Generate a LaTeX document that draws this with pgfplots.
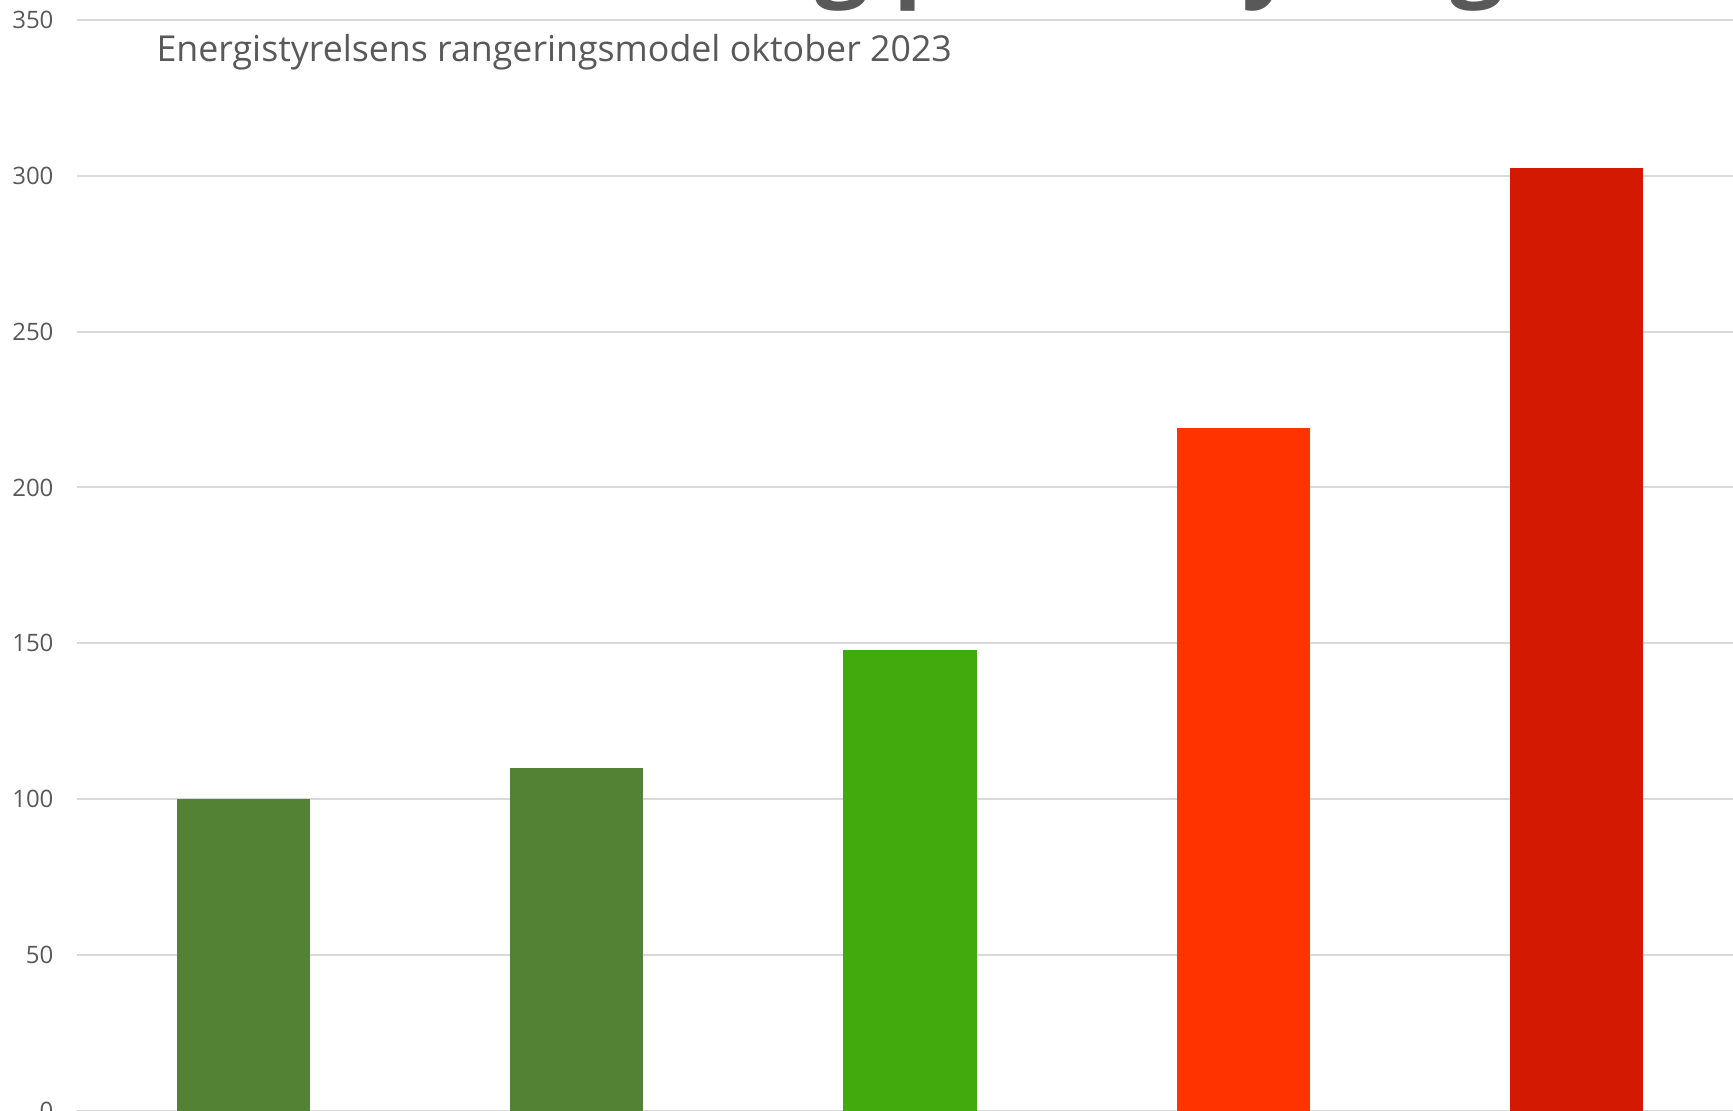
\documentclass[border=0pt]{standalone}
\usepackage{fontspec}
\setmainfont{Open Sans}
\usepackage{pgfplots}
\pgfplotsset{compat=1.18}
\definecolor{txt}{HTML}{595959}
\definecolor{gridc}{HTML}{D9D9D9}
\definecolor{dgreen}{HTML}{548235}
\definecolor{lgreen}{HTML}{43AA0E}
\definecolor{orred}{HTML}{FF3300}
\definecolor{dred}{HTML}{D41903}
\begin{document}
\begin{tikzpicture}
\useasboundingbox (0pt,0pt) rectangle (649.875pt,416.625pt);
\clip (0pt,0pt) rectangle (649.875pt,416.625pt);
\begin{axis}[
  at={(28.875pt,0pt)}, anchor=south west,
  scale only axis, width=621pt, height=409.2pt,
  xmin=-0.5, xmax=4.47, ymin=0, ymax=350,
  ytick={0,50,...,350}, xtick=\empty,
  ymajorgrids, grid style={color=gridc, line width=0.75pt},
  axis line style={draw=none},
  major tick length=0pt,
  tick label style={font=\fontsize{9}{10}\selectfont, text=txt},
  yticklabel style={xshift=-5.3pt},
  /pgf/number format/assume math mode=true,
  ybar, bar width=0.4,
]
\addplot[fill=dgreen, draw=none, bar shift=0pt] coordinates {(0,100)};
\addplot[fill=dgreen, draw=none, bar shift=0pt] coordinates {(1,110)};
\addplot[fill=lgreen, draw=none, bar shift=0pt] coordinates {(2,148)};
\addplot[fill=orred, draw=none, bar shift=0pt] coordinates {(3,219)};
\addplot[fill=dred, draw=none, bar shift=0pt] coordinates {(4,302.5)};
\end{axis}
\node[anchor=west, text=txt, font=\fontsize{13.4}{16}\selectfont, inner sep=0pt] at (58.5pt,397.2pt) {Energistyrelsens rangeringsmodel oktober 2023};
\node[anchor=base west, inner sep=0pt, text=txt, font=\bfseries\fontsize{35.6}{40}\selectfont] at (108pt,420.75pt) {Omkostning pr. forsyning};
\end{tikzpicture}
\end{document}
